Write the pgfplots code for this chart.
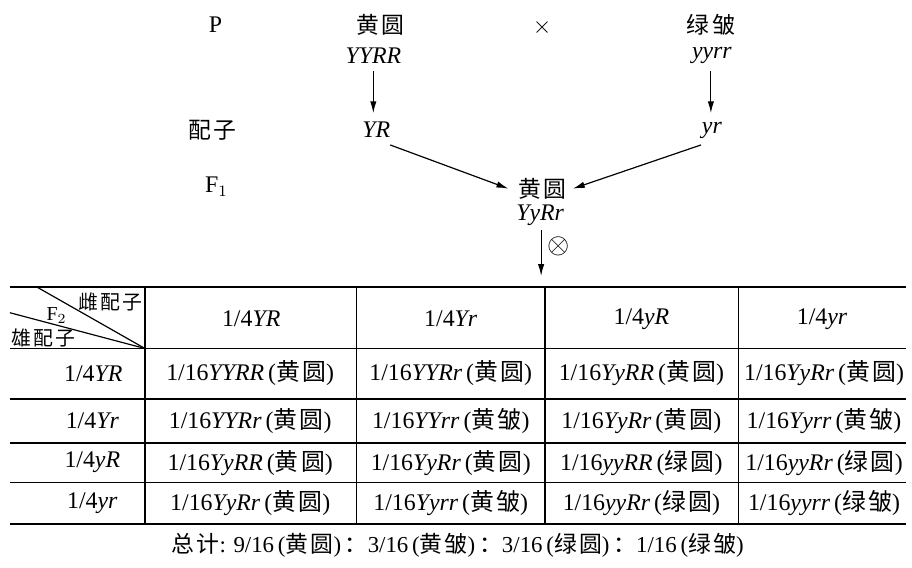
\documentclass[border=0pt]{standalone}
\usepackage{pgfplots}
\pgfplotsset{compat=1.18}
\usetikzlibrary{arrows.meta}
\usepackage{fontspec}
\setmainfont{Liberation Serif}
\newfontfamily\zh[LetterSpace=10]{Noto Sans CJK SC}
\newcommand{\gi}[1]{\textit{#1}}
\newcommand{\cell}[2]{1/16\textit{#1}\,({\zh #2})}
\begin{document}
\fontsize{11}{13}\selectfont
\begin{tikzpicture}
\begin{axis}[hide axis, scale only axis, x=0.5pt, y=0.5pt, y dir=reverse,
  xmin=0, xmax=912, ymin=0, ymax=572, clip=false,
  cycle list={{black,no markers}},
  tl/.style={black, no markers, line width=0.75pt, forget plot},
  ar/.style={black, no markers, line width=0.6pt, forget plot, -{Latex[length=6pt,width=3.2pt]}}]
\path (axis cs:0,0) rectangle (axis cs:912,572);
% arrows
\addplot[ar] coordinates {(376,72) (376,114)};
\addplot[ar] coordinates {(716,72) (716,114)};
\addplot[ar] coordinates {(393,146) (512,190)};
\addplot[ar] coordinates {(706,146) (577,190)};
\addplot[ar] coordinates {(545,232) (545,278)};
% table lines
\addplot[tl] coordinates {(10,289) (912,289)};
\addplot[tl] coordinates {(10,351) (912,351)};
\addplot[tl] coordinates {(10,402) (912,402)};
\addplot[tl] coordinates {(10,446) (912,446)};
\addplot[tl] coordinates {(10,486) (912,486)};
\addplot[tl] coordinates {(10,528) (912,528)};
\addplot[tl] coordinates {(146,289) (146,528)};
\addplot[tl] coordinates {(359,289) (359,528)};
\addplot[tl] coordinates {(549,289) (549,528)};
\addplot[tl] coordinates {(744,289) (744,528)};
\addplot[tl, line width=0.6pt] coordinates {(37,289) (146,351)};
\addplot[tl, line width=0.6pt] coordinates {(10,315) (146,351)};
% top labels
\node at (axis cs:217,25) {\fontsize{12}{14}\selectfont P};
\node at (axis cs:383,25) {\fontsize{11.5}{14}\selectfont\zh 黄圆};
\node at (axis cs:376,56) {\fontsize{12}{14}\selectfont\gi{YYRR}};
\node at (axis cs:546,28) {\fontsize{12}{14}\selectfont$\times$};
\node at (axis cs:716,25) {\fontsize{11.5}{14}\selectfont\zh 绿皱};
\node at (axis cs:717,56) {\fontsize{12}{14}\selectfont\gi{yyrr}};
\node at (axis cs:214,131) {\fontsize{11.5}{14}\selectfont\zh 配子};
\node at (axis cs:379,131) {\fontsize{12}{14}\selectfont\gi{YR}};
\node at (axis cs:717,131) {\fontsize{12}{14}\selectfont\gi{yr}};
\node at (axis cs:218,188) {\fontsize{12}{14}\selectfont F$_1$};
\node at (axis cs:546,190) {\fontsize{11.5}{14}\selectfont\zh 黄圆};
\node at (axis cs:544,217) {\fontsize{12}{14}\selectfont\gi{YyRr}};
\node at (axis cs:563,248) {\fontsize{15}{17}\selectfont$\otimes$};
% header
\node at (axis cs:111,304) {\fontsize{10}{12}\selectfont\zh 雌配子};
\node at (axis cs:57,318) {\fontsize{10}{12}\selectfont F$_2$};
\node at (axis cs:44,340) {\fontsize{10}{12}\selectfont\zh 雄配子};
\fontsize{12}{14}\selectfont
\node at (axis cs:253,321) {1/4\gi{YR}};
\node at (axis cs:454,321) {1/4\gi{Yr}};
\node at (axis cs:646,321) {1/4\gi{yR}};
\node at (axis cs:828,321) {1/4\gi{yr}};
% row labels
\node at (axis cs:94,376) {1/4\gi{YR}};
\node at (axis cs:93,424) {1/4\gi{Yr}};
\node at (axis cs:93,466) {1/4\gi{yR}};
\node at (axis cs:93,507) {1/4\gi{yr}};
% cells
\node at (axis cs:252,376) {\cell{YYRR}{黄圆}};
\node at (axis cs:454,376) {\cell{YYRr}{黄圆}};
\node at (axis cs:646,376) {\cell{YyRR}{黄圆}};
\node at (axis cs:830,376) {\cell{YyRr}{黄圆}};
\node at (axis cs:252,424) {\cell{YYRr}{黄圆}};
\node at (axis cs:454,424) {\cell{YYrr}{黄皱}};
\node at (axis cs:646,424) {\cell{YyRr}{黄圆}};
\node at (axis cs:830,424) {\cell{Yyrr}{黄皱}};
\node at (axis cs:252,466) {\cell{YyRR}{黄圆}};
\node at (axis cs:454,466) {\cell{YyRr}{黄圆}};
\node at (axis cs:646,466) {\cell{yyRR}{绿圆}};
\node at (axis cs:830,466) {\cell{yyRr}{绿圆}};
\node at (axis cs:252,507) {\cell{YyRr}{黄圆}};
\node at (axis cs:454,507) {\cell{Yyrr}{黄皱}};
\node at (axis cs:646,507) {\cell{yyRr}{绿圆}};
\node at (axis cs:830,507) {\cell{yyrr}{绿皱}};
% total
\node at (axis cs:461,549) {\fontsize{11.5}{13}\selectfont{\zh 总计}: 9/16\,({\zh 黄圆})\,{\zh ：}3/16\,({\zh 黄皱})\,{\zh ：}3/16\,({\zh 绿圆})\,{\zh ：}1/16\,({\zh 绿皱})};
\end{axis}
\end{tikzpicture}
\end{document}
